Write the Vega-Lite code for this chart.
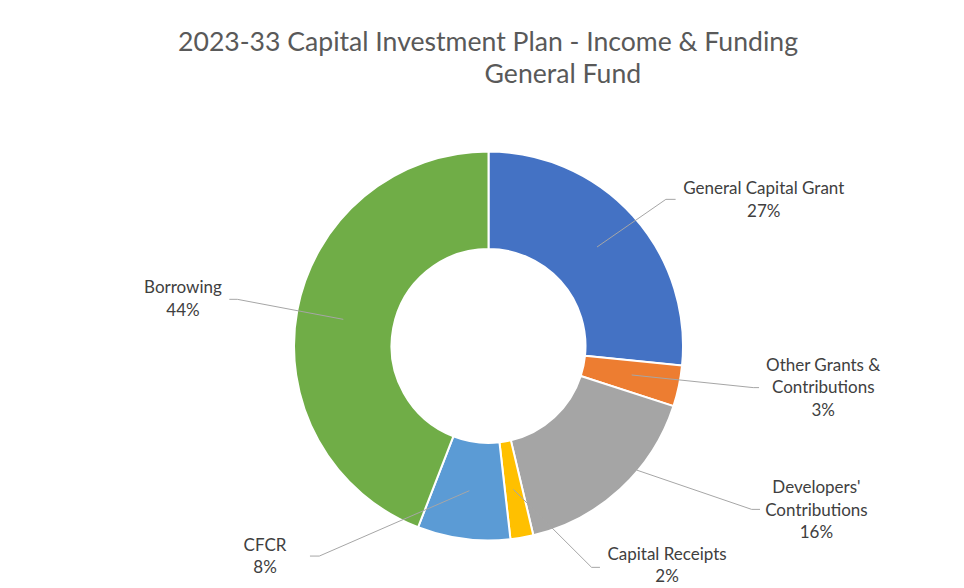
{
  "$schema": "https://vega.github.io/schema/vega-lite/v6.json",
  "width": 964,
  "height": 588,
  "autosize": {"type": "none"},
  "padding": 0,
  "background": "white",
  "config": {"view": {"stroke": null}},
  "title": {
    "text": ["2023-33 Capital Investment Plan - Income & Funding", "\u200b\u00a0\u00a0\u00a0\u00a0\u00a0\u00a0\u00a0\u00a0\u00a0\u00a0\u00a0\u00a0\u00a0\u00a0\u00a0\u00a0\u00a0\u00a0\u00a0\u00a0\u00a0\u00a0General Fund"],
    "anchor": "middle",
    "dx": 6,
    "offset": -89,
    "font": "Lato",
    "fontSize": 26.6,
    "fontWeight": "normal",
    "color": "#595959",
    "lineHeight": 32.5
  },
  "data": {
    "values": [
      {"category": "General Capital Grant", "value": 26.6},
      {"category": "Other Grants & Contributions", "value": 3.4},
      {"category": "Developers' Contributions", "value": 16.3},
      {"category": "Capital Receipts", "value": 1.9},
      {"category": "CFCR", "value": 7.7},
      {"category": "Borrowing", "value": 44.1}
    ]
  },
  "transform": [
    {"window": [{"op": "row_number", "as": "idx"}]},
    {"calculate": "replace(replace(datum.category, ' & ', ' &\\n'), ' Contributions', '\\nContributions') + '\\n' + format(datum.value / 100, '.0%')", "as": "label"}
  ],
  "layer": [
    {
      "mark": {"type": "arc", "outerRadius": 194.5, "innerRadius": 97, "stroke": "white", "strokeWidth": 2},
      "encoding": {
        "x": {"datum": 0, "type": "quantitative", "scale": {"domain": [-2.5116, 2.4447], "nice": false, "zero": false}, "axis": null},
        "y": {"datum": 0, "type": "quantitative", "scale": {"domain": [-1.2442, 1.7789], "nice": false, "zero": false}, "axis": null},
        "theta": {"field": "value", "type": "quantitative", "stack": true},
        "order": {"field": "idx", "type": "quantitative"},
        "color": {
          "field": "category",
          "type": "nominal",
          "scale": {
            "domain": ["General Capital Grant", "Other Grants & Contributions", "Developers' Contributions", "Capital Receipts", "CFCR", "Borrowing"],
            "range": ["#4472C4", "#ED7D31", "#A5A5A5", "#FFC000", "#5B9BD5", "#70AD47"]
          },
          "legend": null
        }
      }
    },
    {
      "transform": [{"filter": "datum.category == 'General Capital Grant'"}],
      "layer": [
        {"mark": {"type": "rule", "color": "#A6A6A6", "strokeWidth": 1},
         "encoding": {"x": {"datum": 0.558, "type": "quantitative"}, "y": {"datum": 0.509, "type": "quantitative"}, "x2": {"datum": 0.912}, "y2": {"datum": 0.754}}},
        {"mark": {"type": "rule", "color": "#A6A6A6", "strokeWidth": 1},
         "encoding": {"x": {"datum": 0.912, "type": "quantitative"}, "y": {"datum": 0.754, "type": "quantitative"}, "x2": {"datum": 0.962}, "y2": {"datum": 0.754}}},
        {"mark": {"type": "text", "font": "Lato", "fontSize": 17, "color": "#404040", "lineBreak": "\n", "lineHeight": 22.4, "align": "center", "baseline": "middle"},
         "encoding": {"x": {"datum": 1.415, "type": "quantitative"}, "y": {"datum": 0.8057, "type": "quantitative"}, "text": {"field": "label"}}}
      ]
    },
    {
      "transform": [{"filter": "datum.category == 'Other Grants & Contributions'"}],
      "layer": [
        {"mark": {"type": "rule", "color": "#A6A6A6", "strokeWidth": 1},
         "encoding": {"x": {"datum": 0.736, "type": "quantitative"}, "y": {"datum": -0.149, "type": "quantitative"}, "x2": {"datum": 1.361}, "y2": {"datum": -0.214}}},
        {"mark": {"type": "rule", "color": "#A6A6A6", "strokeWidth": 1},
         "encoding": {"x": {"datum": 1.361, "type": "quantitative"}, "y": {"datum": -0.214, "type": "quantitative"}, "x2": {"datum": 1.391}, "y2": {"datum": -0.214}}},
        {"mark": {"type": "text", "font": "Lato", "fontSize": 17, "color": "#404040", "lineBreak": "\n", "lineHeight": 22.4, "align": "center", "baseline": "middle"},
         "encoding": {"x": {"datum": 1.721, "type": "quantitative"}, "y": {"datum": -0.1028, "type": "quantitative"}, "text": {"field": "label"}}}
      ]
    },
    {
      "transform": [{"filter": "datum.category == \"Developers' Contributions\""}],
      "layer": [
        {"mark": {"type": "rule", "color": "#A6A6A6", "strokeWidth": 1},
         "encoding": {"x": {"datum": 0.762, "type": "quantitative"}, "y": {"datum": -0.638, "type": "quantitative"}, "x2": {"datum": 1.353}, "y2": {"datum": -0.840}}},
        {"mark": {"type": "rule", "color": "#A6A6A6", "strokeWidth": 1},
         "encoding": {"x": {"datum": 1.353, "type": "quantitative"}, "y": {"datum": -0.840, "type": "quantitative"}, "x2": {"datum": 1.396}, "y2": {"datum": -0.840}}},
        {"mark": {"type": "text", "font": "Lato", "fontSize": 17, "color": "#404040", "lineBreak": "\n", "lineHeight": 22.4, "align": "center", "baseline": "middle"},
         "encoding": {"x": {"datum": 1.686, "type": "quantitative"}, "y": {"datum": -0.7316, "type": "quantitative"}, "text": {"field": "label"}}}
      ]
    },
    {
      "transform": [{"filter": "datum.category == 'Capital Receipts'"}],
      "layer": [
        {"mark": {"type": "rule", "color": "#A6A6A6", "strokeWidth": 1},
         "encoding": {"x": {"datum": 0.1275, "type": "quantitative"}, "y": {"datum": -0.737, "type": "quantitative"}, "x2": {"datum": 0.53}, "y2": {"datum": -1.138}}},
        {"mark": {"type": "rule", "color": "#A6A6A6", "strokeWidth": 1},
         "encoding": {"x": {"datum": 0.53, "type": "quantitative"}, "y": {"datum": -1.138, "type": "quantitative"}, "x2": {"datum": 0.573}, "y2": {"datum": -1.138}}},
        {"mark": {"type": "text", "font": "Lato", "fontSize": 17, "color": "#404040", "lineBreak": "\n", "lineHeight": 22.4, "align": "center", "baseline": "middle"},
         "encoding": {"x": {"datum": 0.918, "type": "quantitative"}, "y": {"datum": -1.0746, "type": "quantitative"}, "text": {"field": "label"}}}
      ]
    },
    {
      "transform": [{"filter": "datum.category == 'CFCR'"}],
      "layer": [
        {"mark": {"type": "rule", "color": "#A6A6A6", "strokeWidth": 1},
         "encoding": {"x": {"datum": -0.0987, "type": "quantitative"}, "y": {"datum": -0.744, "type": "quantitative"}, "x2": {"datum": -0.870}, "y2": {"datum": -1.080}}},
        {"mark": {"type": "rule", "color": "#A6A6A6", "strokeWidth": 1},
         "encoding": {"x": {"datum": -0.870, "type": "quantitative"}, "y": {"datum": -1.080, "type": "quantitative"}, "x2": {"datum": -0.918}, "y2": {"datum": -1.080}}},
        {"mark": {"type": "text", "font": "Lato", "fontSize": 17, "color": "#404040", "lineBreak": "\n", "lineHeight": 22.4, "align": "center", "baseline": "middle"},
         "encoding": {"x": {"datum": -1.149, "type": "quantitative"}, "y": {"datum": -1.0283, "type": "quantitative"}, "text": {"field": "label"}}}
      ]
    },
    {
      "transform": [{"filter": "datum.category == 'Borrowing'"}],
      "layer": [
        {"mark": {"type": "rule", "color": "#A6A6A6", "strokeWidth": 1},
         "encoding": {"x": {"datum": -0.7465, "type": "quantitative"}, "y": {"datum": 0.137, "type": "quantitative"}, "x2": {"datum": -1.2915}, "y2": {"datum": 0.240}}},
        {"mark": {"type": "rule", "color": "#A6A6A6", "strokeWidth": 1},
         "encoding": {"x": {"datum": -1.2915, "type": "quantitative"}, "y": {"datum": 0.240, "type": "quantitative"}, "x2": {"datum": -1.3325}, "y2": {"datum": 0.240}}},
        {"mark": {"type": "text", "font": "Lato", "fontSize": 17, "color": "#404040", "lineBreak": "\n", "lineHeight": 22.4, "align": "center", "baseline": "middle"},
         "encoding": {"x": {"datum": -1.571, "type": "quantitative"}, "y": {"datum": 0.2967, "type": "quantitative"}, "text": {"field": "label"}}}
      ]
    }
  ]
}
